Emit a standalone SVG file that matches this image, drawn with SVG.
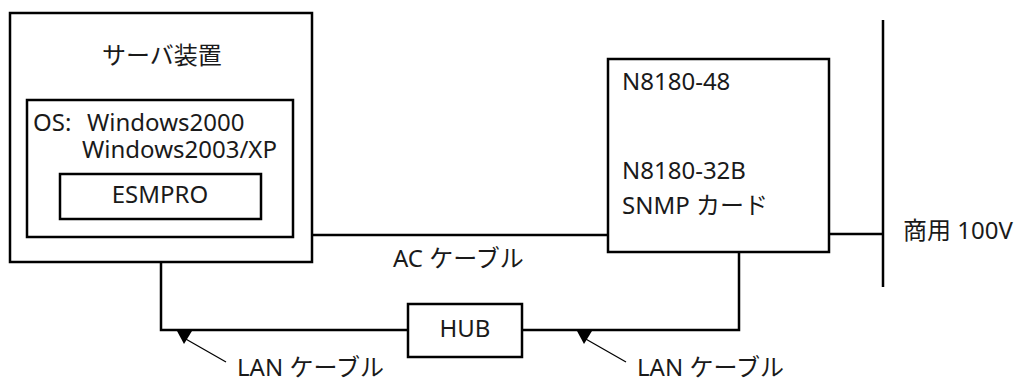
<svg xmlns="http://www.w3.org/2000/svg" width="1022" height="380" viewBox="0 0 1022 380">
<style>
.box{fill:#fff;stroke:#000;stroke-width:2.5}
.ln{fill:none;stroke:#000;stroke-width:2.5}
.ld{fill:none;stroke:#000;stroke-width:1.3}
.ah{fill:#000}
text{font-family:"Noto Sans","Noto Sans CJK JP",sans-serif;font-size:24px;fill:#1a1a1a}
.c{text-anchor:middle}
</style>
<defs>
<g id="lanArrow">
<polygon class="ah" points="-7,1 8,1 0,14"/>
<line class="ld" x1="0" y1="8" x2="42" y2="32"/>
</g>
</defs>
<g id="connectors">
<line class="ln" x1="312" y1="235" x2="608" y2="235"/>
<line class="ln" x1="829" y1="234" x2="883" y2="234"/>
<line class="ln" x1="883" y1="20" x2="883" y2="287"/>
<polyline class="ln" points="161,262 161,330 408,330"/>
<polyline class="ln" points="522,330 739,330 739,252"/>
<use href="#lanArrow" x="184" y="330"/>
<use href="#lanArrow" x="584" y="330"/>
<text x="393" y="267">AC ケーブル</text>
<text x="237" y="376">LAN ケーブル</text>
<text x="637" y="376">LAN ケーブル</text>
</g>
<g id="server">
<rect class="box" x="10" y="13" width="302" height="249"/>
<text class="c" x="162" y="64">サーバ装置</text>
</g>
<g id="os">
<rect class="box" x="27" y="100" width="266" height="137"/>
<text x="33" y="131">OS:</text>
<text x="87" y="131">Windows2000</text>
<text x="82" y="158">Windows2003/XP</text>
</g>
<g id="esmpro">
<rect class="box" x="60" y="174" width="201" height="45"/>
<text class="c" x="160" y="203">ESMPRO</text>
</g>
<g id="ups">
<rect class="box" x="608" y="59" width="221" height="193"/>
<text x="622" y="90">N8180-48</text>
<text x="622" y="179">N8180-32B</text>
<text x="622" y="214">SNMP カード</text>
</g>
<g id="hub">
<rect class="box" x="408" y="304" width="114" height="53"/>
<text class="c" x="465" y="337">HUB</text>
</g>
<g id="power">
<text x="903" y="239">商用 100V</text>
</g>
</svg>
